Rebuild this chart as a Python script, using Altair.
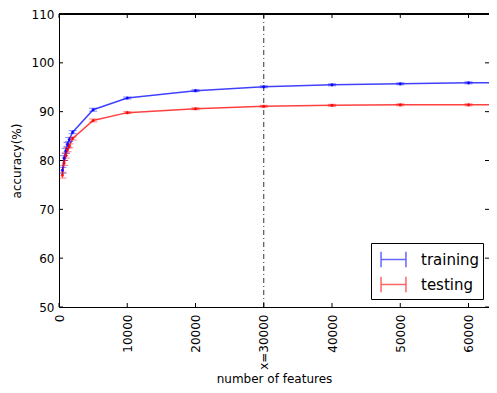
import altair as alt
import pandas as pd

features = [500, 750, 1000, 1250, 1500, 2000, 5000, 10000, 20000, 30000, 40000, 50000, 60000, 70000]
train_acc = [78.0, 80.5, 82.0, 83.3, 84.3, 85.8, 90.4, 92.8, 94.3, 95.1, 95.5, 95.7, 95.9, 96.0]
test_acc = [77.0, 79.5, 81.0, 82.2, 83.0, 84.5, 88.2, 89.8, 90.6, 91.1, 91.3, 91.4, 91.4, 91.4]
train_err = [0.6, 0.5, 0.5, 0.4, 0.4, 0.3, 0.3, 0.2, 0.2, 0.2, 0.2, 0.2, 0.2, 0.2]
test_err = [0.6, 0.5, 0.5, 0.4, 0.4, 0.3, 0.3, 0.2, 0.2, 0.2, 0.2, 0.2, 0.2, 0.2]
series_names = ["training", "testing"]
series_colors = ["blue", "red"]
x_ticks = [0, 10000, 20000, 30000, 40000, 50000, 60000]
y_ticks = [50, 60, 70, 80, 90, 100, 110]
marker_x = [30000]

rows = []
for name, accs, errs in [("training", train_acc, train_err), ("testing", test_acc, test_err)]:
    for f, a, e in zip(features, accs, errs):
        rows.append({"features": f, "acc": a, "lo": a - e, "hi": a + e, "series": name})
df = pd.DataFrame(rows)

W, H = 430, 293
XT = "number of features"
YT = "accuracy(%)"
xscale = alt.Scale(domain=[0, 63000], nice=False, zero=False)
yscale = alt.Scale(domain=[50, 110], nice=False, zero=False)
cscale = alt.Scale(domain=series_names, range=series_colors)

color = alt.Color(
    "series:N",
    scale=cscale,
    legend=alt.Legend(
        title=None,
        orient="none",
        legendX=312,
        legendY=229,
        symbolType="M-1,-0.62L-1,0.62M-1,0L1,0M1,-0.62L1,0.62",
        symbolSize=620,
        symbolStrokeWidth=1.5,
        symbolOpacity=0.8,
        symbolOffset=6,
        labelFontSize=15,
        labelColor="black",
        labelOffset=14,
        padding=3,
        rowPadding=0,
        strokeColor="black",
        fillColor="white",
        cornerRadius=0,
    ),
)
color_plain = alt.Color("series:N", scale=cscale)

x_main = alt.X(
    "features:Q",
    scale=xscale,
    title=XT,
    axis=alt.Axis(
        values=x_ticks,
        format="d",
        labelExpr="datum.value == 30000 ? 'x=30000' : datum.label",
        labelAngle=270,
        labelAlign="right",
        labelBaseline="middle",
        labelPadding=7,
        labelFontSize=12,
        labelColor="black",
        labelFlush=False,
        labelOverlap=False,
        ticks=False,
        grid=False,
        domainColor="black",
        titleFontSize=12,
        titleFontWeight="normal",
        titleColor="black",
        titlePadding=4,
    ),
)
y_main = alt.Y(
    "acc:Q",
    scale=yscale,
    title=YT,
    axis=alt.Axis(
        values=y_ticks,
        labelPadding=5,
        labelFontSize=12,
        labelColor="black",
        labelFlush=False,
        ticks=False,
        grid=False,
        domainColor="black",
        titleFontSize=12,
        titleFontWeight="normal",
        titleColor="black",
        titlePadding=8,
    ),
)
x_plain = alt.X("features:Q", scale=xscale, title=XT)

base = alt.Chart(df)
lines = base.mark_line(strokeWidth=1.5, opacity=0.75, clip=True).encode(x=x_main, y=y_main, color=color)
points = base.mark_circle(size=10, opacity=0.8, clip=True).encode(
    x=x_plain, y=alt.Y("acc:Q", scale=yscale, title=YT), color=color_plain
)
ebars = base.mark_rule(strokeWidth=1, opacity=0.6, clip=True).encode(
    x=x_plain, y=alt.Y("lo:Q", scale=yscale, title=YT), y2="hi:Q", color=color_plain
)
caps_lo = base.mark_tick(orient="horizontal", size=8, thickness=1, opacity=0.5, clip=True).encode(
    x=x_plain, y=alt.Y("lo:Q", scale=yscale, title=YT), color=color_plain
)
caps_hi = base.mark_tick(orient="horizontal", size=8, thickness=1, opacity=0.5, clip=True).encode(
    x=x_plain, y=alt.Y("hi:Q", scale=yscale, title=YT), color=color_plain
)

vline = alt.Chart(pd.DataFrame({"features": marker_x})).mark_rule(
    color="#333333", strokeDash=[5, 3, 1, 3], strokeWidth=1
).encode(x=x_plain)

xt = pd.DataFrame({"features": x_ticks})
yt = pd.DataFrame({"acc": y_ticks})
tick_b = alt.Chart(xt).mark_rule(color="black").encode(x=x_plain, y=alt.value(H), y2=alt.value(H - 4))
tick_t = alt.Chart(xt).mark_rule(color="black").encode(x=x_plain, y=alt.value(0), y2=alt.value(4))
tick_l = alt.Chart(yt).mark_rule(color="black").encode(
    y=alt.Y("acc:Q", scale=yscale, title=YT), x=alt.value(0), x2=alt.value(4)
)
tick_r = alt.Chart(yt).mark_rule(color="black").encode(
    y=alt.Y("acc:Q", scale=yscale, title=YT), x=alt.value(W - 4), x2=alt.value(W)
)
top_spine = alt.Chart(xt).mark_rule(color="black").encode(x=alt.value(0), x2=alt.value(W), y=alt.value(0))

chart = (
    alt.layer(lines, vline, ebars, caps_lo, caps_hi, points, tick_b, tick_t, tick_l, tick_r, top_spine)
    .properties(
        width=W,
        height=H,
        autosize=alt.AutoSizeParams(type="none"),
        padding={"left": 51, "top": 6, "right": 0, "bottom": 79},
    )
    .configure(font="DejaVu Sans")
    .configure_view(stroke=None)
)

chart.save("out.html", embed_options={"renderer": "svg", "actions": False})
